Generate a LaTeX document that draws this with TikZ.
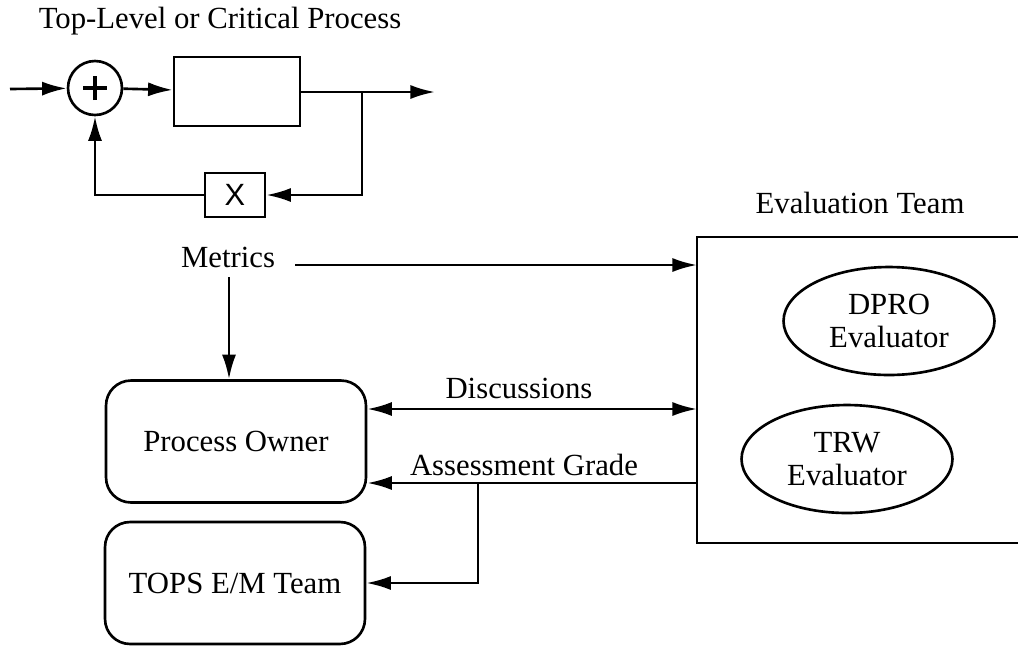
\documentclass[tikz,border=0pt]{standalone}
\usepackage{fontspec}
\setmainfont{Liberation Serif}
\setsansfont{Liberation Sans}
\usetikzlibrary{arrows.meta,shapes.geometric}
\begin{document}
\begin{tikzpicture}[x=0.02cm,y=-0.02cm,
  line width=1.5pt,
  arr/.style={-{Latex[length=14pt,width=8pt]}},
  darr/.style={{Latex[length=14pt,width=8pt]}-{Latex[length=14pt,width=8pt]}},
  lbl/.style={font=\fontsize{17.5}{20}\selectfont, inner sep=0pt},
  rbox/.style={draw, rounded corners=0.5cm, minimum width=5.2cm, minimum height=2.44cm, font=\fontsize{17.5}{20}\selectfont},
  oval/.style={draw, ellipse, minimum width=4.22cm, minimum height=2.16cm, align=center, font=\fontsize{17.5}{19}\selectfont, inner sep=0pt}
]
\useasboundingbox (0,0) rectangle (1018,647);
% title
\node[lbl, anchor=base] (title) at (220,28) {Top-Level or Critical Process};
% top loop
\coordinate (in) at (10,89);
\node[draw, circle, minimum size=1.08cm, inner sep=0pt] (sum) at (95,88) {};
\draw[line width=2.2pt] ([xshift=-0.24cm]sum.center) -- ([xshift=0.24cm]sum.center);
\draw[line width=2.2pt] ([yshift=-0.24cm]sum.center) -- ([yshift=0.24cm]sum.center);
\node[draw, minimum width=2.52cm, minimum height=1.38cm, inner sep=0pt] (plant) at (237,91.5) {};
\node[draw, minimum width=1.2cm, minimum height=0.88cm, inner sep=0pt, font=\sffamily\fontsize{17.5}{20}\selectfont] (xbox) at (235,195) {X};
\coordinate (out) at (435,92);
\coordinate (br) at (362,92);
\draw[arr] (in) -- (sum);
\draw[arr] (sum) -- (plant);
\draw[arr] (plant.east |- out) -- (out);
\draw[arr] (br) |- (xbox.east);
\draw[arr] (xbox.west) -| (sum.south);
% evaluation team
\node[lbl, anchor=base] (evt) at (860,213) {Evaluation Team};
\coordinate (evTL) at (697,237);
\coordinate (evBL) at (697,543);
\draw (1020,237) -- (evTL) -- (evBL) -- (1020,543);
\node[oval] (dpro) at (889,321) {DPRO\\Evaluator};
\node[oval] (trw) at (847,459) {TRW\\Evaluator};
% metrics
\node[lbl, anchor=base] (metrics) at (228,267) {Metrics};
\coordinate (mstart) at (295,265);
\coordinate (evM) at (697,265);
\coordinate (mdown) at (229,277);
\draw[arr] (mstart) -- (evM);
% left boxes
\node[rbox] (po) at (236,441.5) {Process Owner};
\node[rbox] (tops) at (235,583) {TOPS E/M Team};
\draw[arr] (mdown) -- (mdown |- po.north);
% discussions
\coordinate (evD) at (697,409);
\coordinate (evA) at (697,483);
\coordinate (abr) at (478,483);
\draw[darr] (po.east |- evD) -- (evD);
\node[lbl, anchor=base] (disc) at (519,398) {Discussions};
\draw[arr] (evA) -- (po.east |- evA);
\node[lbl, anchor=base] (ag) at (524,475) {Assessment Grade};
\draw[arr] (abr) |- (tops.east);
\end{tikzpicture}
\end{document}
